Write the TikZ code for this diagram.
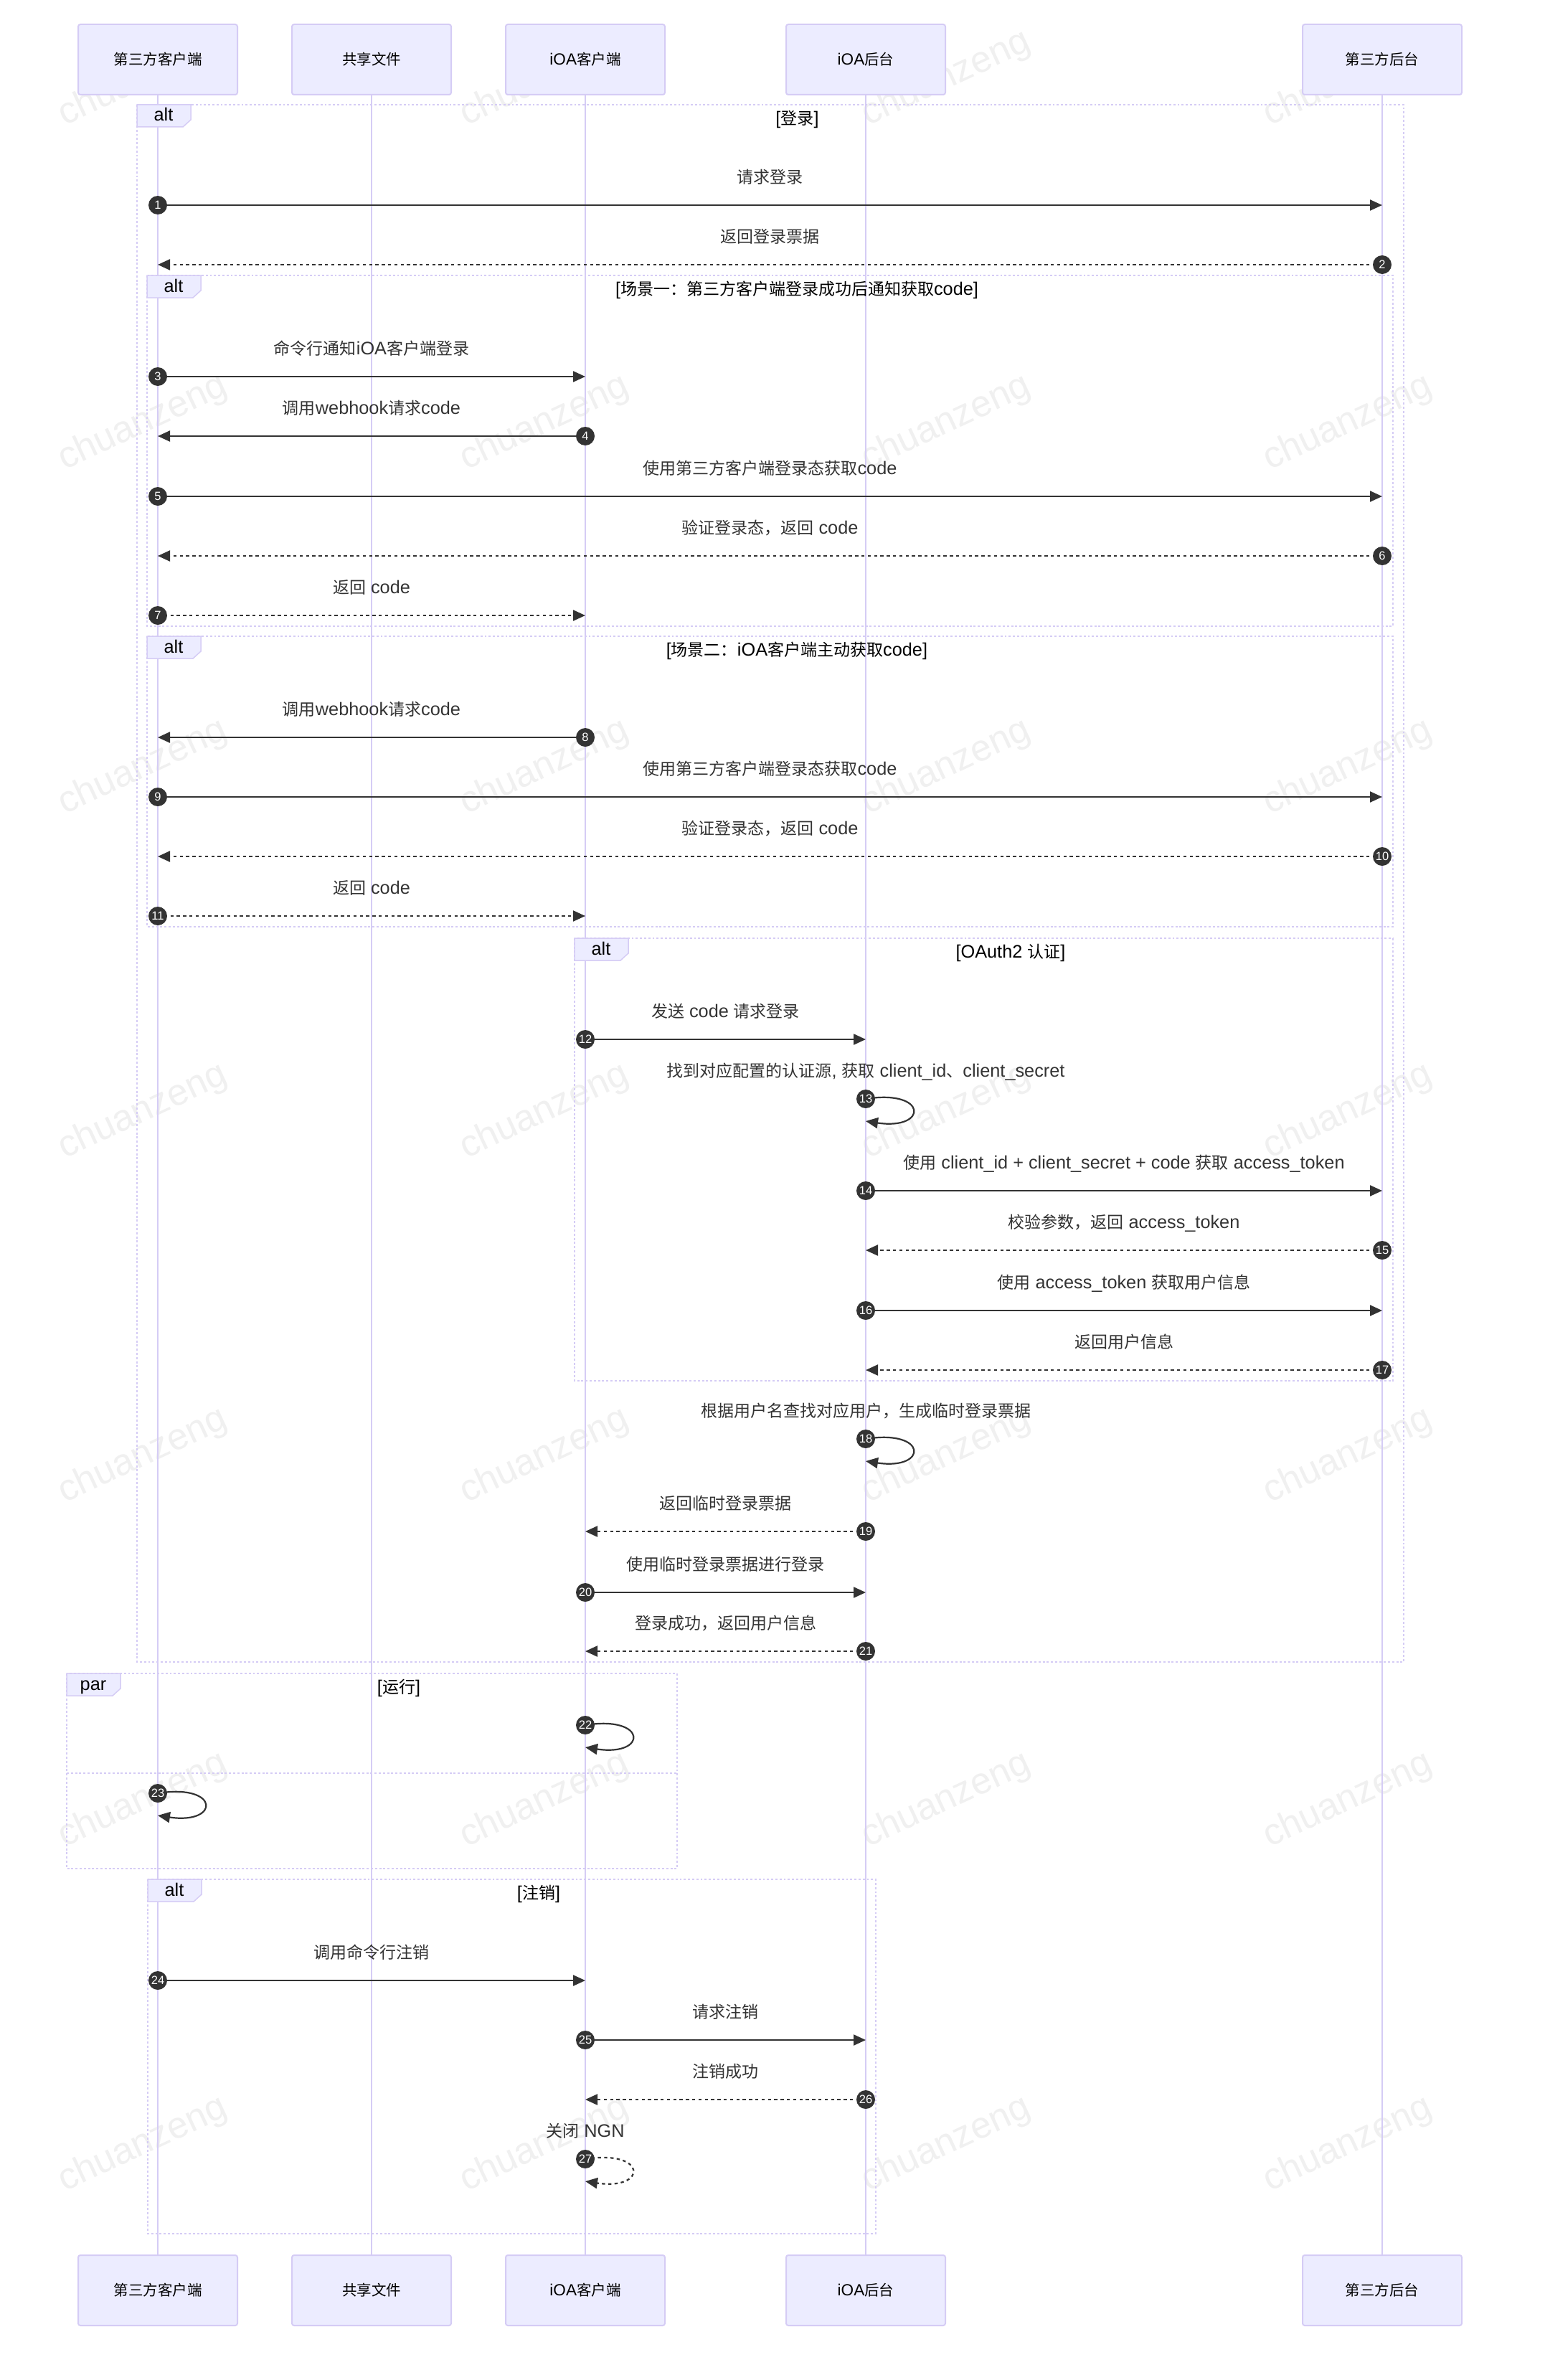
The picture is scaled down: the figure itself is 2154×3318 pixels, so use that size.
\documentclass[tikz,border=0pt]{standalone}
\usepackage{fontspec}
\setmainfont{Noto Sans CJK SC}
\newfontfamily\latfont[Scale=1.1]{Liberation Sans}
\newcommand\la[1]{{\latfont #1}}
\usetikzlibrary{arrows.meta}
\definecolor{actfill}{HTML}{ECECFF}
\definecolor{lav}{HTML}{D5CCF5}
\definecolor{ink}{HTML}{333333}
\definecolor{wmcol}{HTML}{F0F0F0}
\def\xA{220}
\def\xB{518}
\def\xC{816}
\def\xD{1207}
\def\xE{1927}
\newcommand\msgarrow[6]{%
  \coordinate (s#1) at (#2,#4);
  \coordinate (e#1) at (#3,#4);
  \draw[#5] (s#1) -- (e#1);
  \node[numc] (n#1) at (s#1) {\la{#1}};
  \node[msgtext] (t#1) at ({(#2+#3)/2},#4-30.5) {#6};
}
\newcommand\selfloop[4]{%
  \coordinate (s#1) at (#2,#3);
  \coordinate (e#1) at (#2,#3+31);
  \draw[#4] (s#1) .. controls +(87,-14) and +(87,13) .. (e#1);
  \node[numc] (n#1) at (s#1) {\la{#1}};
}
\newcommand\seqframe[7]{%
  \draw[frameline] (#2,#3) rectangle (#4,#5);
  \draw[labbox] (#2,#3) -- ++(75,0) -- ++(0,21) -- ++(-11,10) -- ++(-64,0) -- cycle;
  \node[frametext] (#1k) at (#2+37,#3+23) {\la{#6}};
  \node[frametext] (#1l) at ({(#2+75+#4)/2},#3+27.5) {#7};
}
\begin{document}
\begin{tikzpicture}[x=1pt,y=-1pt,
  actor/.style={draw=lav, line width=2pt, fill=actfill, rounded corners=3pt,
    minimum width=222pt, minimum height=98pt, inner sep=0pt,
    font=\fontsize{20.5}{24}\selectfont, text=black},
  lifeline/.style={draw=lav, line width=2pt},
  frameline/.style={draw=lav, line width=2.2pt, dash pattern=on 2.9pt off 2.9pt},
  labbox/.style={fill=actfill, draw=lav, line width=1.5pt},
  msgline/.style={draw=ink, line width=2.2pt, -{Triangle[length=17pt,width=15pt]}},
  dotline/.style={msgline, dash pattern=on 4.4pt off 4.4pt},
  numc/.style={circle, fill=ink, minimum size=26pt, inner sep=0pt, text=white,
    font=\fontsize{15}{15}\selectfont},
  msgtext/.style={anchor=base, inner sep=0pt, text=ink, font=\fontsize{23}{27}\selectfont},
  frametext/.style={anchor=base, inner sep=0pt, text=black, font=\fontsize{23}{27}\selectfont},
  wmark/.style={rotate=25, text=wmcol, font=\latfont\fontsize{47}{47}\selectfont, inner sep=0pt}
]
\useasboundingbox[fill=white] (0,0) rectangle (2154,3318);

% watermarks
\foreach \r in {0,...,6}{
  \foreach \c in {0,...,3}{
    \node[wmark] (w\r\c) at (199+560*\c,110+480*\r) {chuanzeng};
  }
}

% actors
\node[actor] (a1) at (\xA,83) {第三方客户端};
\node[actor] (a2) at (\xB,83) {共享文件};
\node[actor] (a3) at (\xC,83) {\la{iOA}客户端};
\node[actor] (a4) at (\xD,83) {\la{iOA}后台};
\node[actor] (a5) at (\xE,83) {第三方后台};
\node[actor] (b1) at (\xA,3193) {第三方客户端};
\node[actor] (b2) at (\xB,3193) {共享文件};
\node[actor] (b3) at (\xC,3193) {\la{iOA}客户端};
\node[actor] (b4) at (\xD,3193) {\la{iOA}后台};
\node[actor] (b5) at (\xE,3193) {第三方后台};
\draw[lifeline] (a1) -- (b1);
\draw[lifeline] (a2) -- (b2);
\draw[lifeline] (a3) -- (b3);
\draw[lifeline] (a4) -- (b4);
\draw[lifeline] (a5) -- (b5);

% frames
\seqframe{f1}{191}{146}{1957}{2317}{alt}{\la{[}登录\la{]}}
\seqframe{f2}{205}{384}{1942}{873}{alt}{\la{[}场景一：第三方客户端登录成功后通知获取\la{code]}}
\seqframe{f3}{205}{887}{1942}{1292}{alt}{\la{[}场景二：\la{iOA}客户端主动获取\la{code]}}
\seqframe{f4}{801}{1308}{1942}{1925}{alt}{\la{[OAuth2 }认证\la{]}}
\seqframe{f5}{93}{2333}{944}{2605}{par}{\la{[}运行\la{]}}
\coordinate (p1) at (93,2472);
\coordinate (p2) at (944,2472);
\draw[frameline] (p1) -- (p2);
\seqframe{f6}{206}{2620}{1221}{3114}{alt}{\la{[}注销\la{]}}

% messages
\msgarrow{1}{\xA}{\xE}{286}{msgline}{请求登录}
\msgarrow{2}{\xE}{\xA}{369}{dotline}{返回登录票据}
\msgarrow{3}{\xA}{\xC}{525}{msgline}{命令行通知\la{iOA}客户端登录}
\msgarrow{4}{\xC}{\xA}{608}{msgline}{调用\la{webhook}请求\la{code}}
\msgarrow{5}{\xA}{\xE}{692}{msgline}{使用第三方客户端登录态获取\la{code}}
\msgarrow{6}{\xE}{\xA}{775}{dotline}{验证登录态，返回\la{ code}}
\msgarrow{7}{\xA}{\xC}{858}{dotline}{返回\la{ code}}
\msgarrow{8}{\xC}{\xA}{1028}{msgline}{调用\la{webhook}请求\la{code}}
\msgarrow{9}{\xA}{\xE}{1111}{msgline}{使用第三方客户端登录态获取\la{code}}
\msgarrow{10}{\xE}{\xA}{1194}{dotline}{验证登录态，返回\la{ code}}
\msgarrow{11}{\xA}{\xC}{1277}{dotline}{返回\la{ code}}
\msgarrow{12}{\xC}{\xD}{1449}{msgline}{发送\la{ code }请求登录}
\selfloop{13}{\xD}{1532}{msgline}
\node[msgtext] (t13) at (\xD,1532-30.5) {找到对应配置的认证源\la{, }获取\la{ client\_id}、\la{client\_secret}};
\msgarrow{14}{\xD}{\xE}{1660}{msgline}{使用\la{ client\_id + client\_secret + code }获取\la{ access\_token}}
\msgarrow{15}{\xE}{\xD}{1743}{dotline}{校验参数，返回\la{ access\_token}}
\msgarrow{16}{\xD}{\xE}{1827}{msgline}{使用\la{ access\_token }获取用户信息}
\msgarrow{17}{\xE}{\xD}{1910}{dotline}{返回用户信息}
\selfloop{18}{\xD}{2006}{msgline}
\node[msgtext] (t18) at (\xD,2006-30.5) {根据用户名查找对应用户，生成临时登录票据};
\msgarrow{19}{\xD}{\xC}{2135}{dotline}{返回临时登录票据}
\msgarrow{20}{\xC}{\xD}{2220}{msgline}{使用临时登录票据进行登录}
\msgarrow{21}{\xD}{\xC}{2302}{dotline}{登录成功，返回用户信息}
\selfloop{22}{\xC}{2405}{msgline}
\selfloop{23}{\xA}{2500}{msgline}
\msgarrow{24}{\xA}{\xC}{2761}{msgline}{调用命令行注销}
\msgarrow{25}{\xC}{\xD}{2844}{msgline}{请求注销}
\msgarrow{26}{\xD}{\xC}{2927}{dotline}{注销成功}
\selfloop{27}{\xC}{3010}{dotline}
\node[msgtext] (t27) at (\xC,3010-30.5) {关闭\la{ NGN}};
\end{tikzpicture}
\end{document}
